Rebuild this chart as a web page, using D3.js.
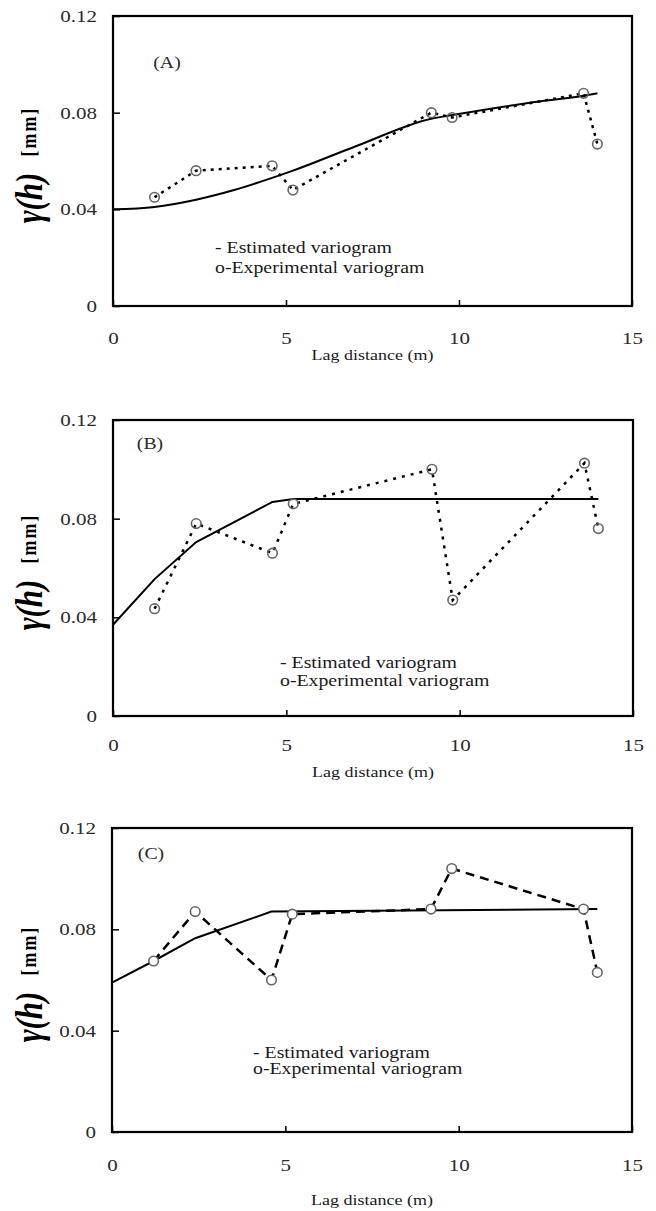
<!DOCTYPE html>
<meta charset="utf-8">
<script src="https://d3js.org/d3.v7.min.js"></script>
<style>
  body { margin: 0; background: #fff; }
  text { font-family: "Liberation Serif", "Times New Roman", serif; }
</style>
<div id="chart"></div>
<script>

// lag distances of the experimental variogram points (m)
var lags = [1.2, 2.4, 4.6, 5.2, 9.2, 9.8, 13.6, 14.0];

// experimental semivariance, one array per panel (mm)
var expA = [0.045, 0.056, 0.058, 0.048, 0.080, 0.078, 0.088, 0.067];
var expB = [0.0435, 0.078, 0.066, 0.086, 0.100, 0.047, 0.1025, 0.076];
var expC = [0.0675, 0.087, 0.060, 0.086, 0.088, 0.104, 0.088, 0.063];

// fitted (estimated) variogram curves
var estLagsA = [0, 1.2, 2.4, 3.5, 4.6, 5.2, 7, 9.2, 9.8, 12, 13.6, 14];
var estA = [0.040, 0.041, 0.044, 0.048, 0.053, 0.056, 0.066, 0.0775, 0.079, 0.084, 0.087, 0.088];
var estLagsB = [0, 1.2, 2.4, 4.6, 5.2, 14];
var estB = [0.037, 0.0555, 0.0705, 0.0868, 0.088, 0.088];
var estLagsC = [0, 1.2, 2.4, 4.6, 14];
var estC = [0.059, 0.0675, 0.0765, 0.087, 0.088];

var yTicks = [0, 0.04, 0.08, 0.12];
var xTicks = [0, 5, 10, 15];
var panelNames = ["(A)", "(B)", "(C)"];
var legendLines = ["- Estimated variogram", "o-Experimental variogram"];

// the source figure has its text stretched sideways
var sx = 1.2;
function stretch(x, y) { return "translate(" + x + "," + y + ") scale(" + sx + ",1)"; }

// layout of the three stacked panels
var panels = [
  {name: panelNames[0], exp: expA, estX: estLagsA, est: estA, smooth: true,
   top: 16, bottom: 306, left: 113, right: 632, tickGap: 26, titleGap: 49,
   nameX: 167, nameY: 62, legX: 215, legY: 247, legDy: 20, dash: "3,5", fill: "none"},
  {name: panelNames[1], exp: expB, estX: estLagsB, est: estB, smooth: false,
   top: 420, bottom: 716, left: 113, right: 633, tickGap: 23, titleGap: 56,
   nameX: 150, nameY: 443, legX: 280, legY: 662, legDy: 18, dash: "3,6", fill: "none"},
  {name: panelNames[2], exp: expC, estX: estLagsC, est: estC, smooth: false,
   top: 828, bottom: 1132, left: 112, right: 632, tickGap: 27, titleGap: 68,
   nameX: 151, nameY: 853, legX: 253, legY: 1052, legDy: 16, dash: "9,6", fill: "#fff"}
];

var svg = d3.select("#chart")
  .append("svg")
    .attr("width", 656)
    .attr("height", 1211);

panels.forEach(function(p) {
  var x = d3.scaleLinear().domain([0, 15]).range([p.left, p.right]);
  var y = d3.scaleLinear().domain([0, 0.12]).range([p.bottom, p.top]);
  var g = svg.append("g");

  // x axis, ticks pointing inward
  var xAxis = g.append("g")
    .attr("transform", "translate(0," + p.bottom + ")")
    .call(d3.axisBottom(x).tickValues(xTicks).tickSizeInner(-6).tickSizeOuter(0).tickPadding(p.tickGap));
  xAxis.select(".domain").remove();
  xAxis.selectAll("line").attr("stroke", "#000").attr("stroke-width", 1.5);
  xAxis.selectAll("text")
    .attr("font-size", 17.5).attr("fill", "#2a2a2a")
    .attr("transform", "scale(" + sx + ",1)");

  // y axis
  var yAxis = g.append("g")
    .attr("transform", "translate(" + p.left + ",0)")
    .call(d3.axisLeft(y).tickValues(yTicks).tickSizeInner(-7).tickSizeOuter(0).tickPadding(16)
      .tickFormat(function(d) { return d === 0 ? "0" : d3.format(".2f")(d); }));
  yAxis.select(".domain").remove();
  yAxis.selectAll("line").attr("stroke", "#000").attr("stroke-width", 1.5);
  yAxis.selectAll("text")
    .attr("font-size", 17.5).attr("fill", "#2a2a2a")
    .attr("x", -16 / sx)
    .attr("transform", "scale(" + sx + ",1)");
  g.selectAll("g").attr("font-family", null);

  // frame
  g.append("rect")
    .attr("x", p.left).attr("y", p.top)
    .attr("width", p.right - p.left).attr("height", p.bottom - p.top)
    .attr("fill", "none").attr("stroke", "#000").attr("stroke-width", 2.2);

  // estimated variogram
  var estLine = d3.line()
    .x(function(d, i) { return x(p.estX[i]); })
    .y(function(d) { return y(d); })
    .curve(p.smooth ? d3.curveMonotoneX : d3.curveLinear);
  g.append("path")
    .attr("d", estLine(p.est))
    .attr("fill", "none").attr("stroke", "#000").attr("stroke-width", 2);

  // experimental variogram
  var expLine = d3.line()
    .x(function(d, i) { return x(lags[i]); })
    .y(function(d) { return y(d); });
  g.append("path")
    .attr("d", expLine(p.exp))
    .attr("fill", "none").attr("stroke", "#000").attr("stroke-width", 2.5)
    .attr("stroke-dasharray", p.dash);

  g.selectAll("circle")
    .data(p.exp)
    .enter()
    .append("circle")
      .attr("cx", function(d, i) { return x(lags[i]); })
      .attr("cy", function(d) { return y(d); })
      .attr("r", 4.8)
      .attr("fill", p.fill)
      .attr("stroke", "#666").attr("stroke-width", 1.6);

  // panel letter
  g.append("text")
    .attr("transform", stretch(p.nameX, p.nameY))
    .attr("dy", "0.35em").attr("text-anchor", "middle")
    .attr("font-size", 16.5).attr("fill", "#2a2a2a")
    .text(p.name);

  // legend text
  legendLines.forEach(function(t, i) {
    g.append("text")
      .attr("transform", stretch(p.legX, p.legY + i * p.legDy))
      .attr("dy", "0.35em")
      .attr("font-size", 16.5).attr("fill", "#1a1a1a")
      .text(t);
  });

  // x title
  g.append("text")
    .attr("transform", stretch((p.left + p.right) / 2, p.bottom + p.titleGap))
    .attr("dy", "0.35em").attr("text-anchor", "middle")
    .attr("font-size", 15).attr("fill", "#1a1a1a")
    .text("Lag distance (m)");

  // y title
  var yl = g.append("text")
    .attr("transform", "translate(42," + ((p.top + p.bottom) / 2 + 4) + ") scale(" + sx + ",1) rotate(-90)")
    .attr("text-anchor", "middle").attr("fill", "#000");
  yl.append("tspan")
    .attr("font-size", 31).attr("font-weight", "bold").attr("font-style", "italic")
    .text("\u03b3(h)");
  yl.append("tspan")
    .attr("dx", 16).attr("dy", -4.6)
    .attr("font-size", 18).attr("font-weight", "bold").attr("letter-spacing", 2)
    .text("[mm]");
});

</script>
